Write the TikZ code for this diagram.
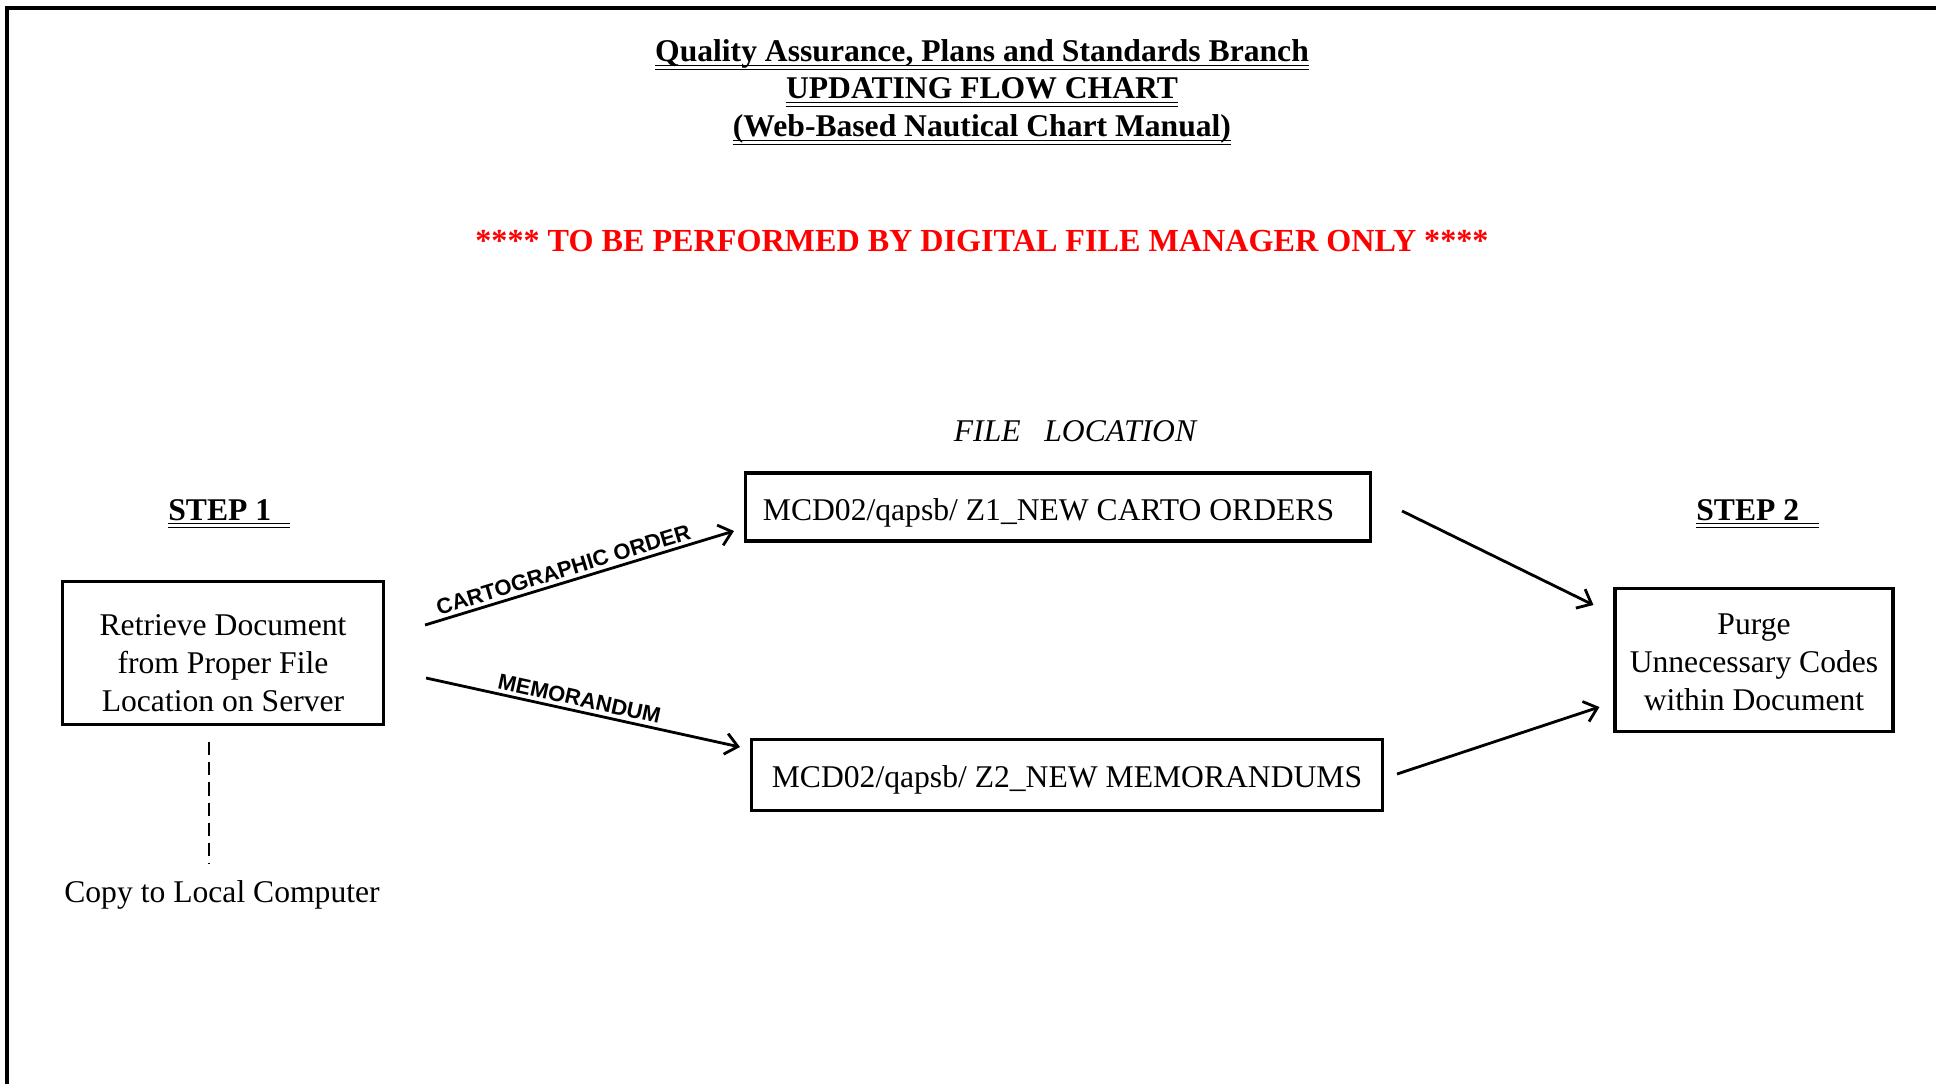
\documentclass[tikz,border=0pt]{standalone}
\usepackage{fontspec}
\setmainfont{Liberation Serif}
\newfontfamily\labfont{Liberation Sans}
\usepackage{tikz}
\usetikzlibrary{positioning,calc,arrows,arrows.meta}

% two rules under a heading node
\newcommand{\dblrule}[1]{%
  \draw[line width=0.8pt] ([yshift=-2pt]#1.base west) -- ([yshift=-2pt]#1.base east);
  \draw[line width=0.8pt] ([yshift=-4.2pt]#1.base west) -- ([yshift=-4.2pt]#1.base east);}

\tikzset{
  txt/.style={font=\fontsize{18}{21.6}\selectfont},
  head/.style={font=\fontsize{18}{21.6}\selectfont\bfseries, inner sep=0pt},
  box/.style={draw, line width=1.8pt, align=center, txt},
  lab/.style={font=\labfont\bfseries\fontsize{12.5}{14}\selectfont, sloped, above, inner sep=2pt},
  flow/.style={-{Straight Barb[length=7pt,width=12pt]}, line width=1.6pt}
}

\begin{document}
\begin{tikzpicture}[x=0.02cm,y=-0.02cm]
    \useasboundingbox (0,0) rectangle (1936,1084);
    \draw[line width=2.6pt] (1936,8) -- (7,8) -- (7,1084);

    \node[head,anchor=base] (title1) at (982,62) {Quality Assurance, Plans and Standards Branch};
    \node[head,anchor=base] (title2) at (982,99) {UPDATING FLOW CHART};
    \node[head,anchor=base] (title3) at (982,137) {(Web-Based Nautical Chart Manual)};
    \node[head,anchor=base,red,font=\fontsize{18.3}{22}\selectfont\bfseries] (warn) at (982,252) {**** TO BE PERFORMED BY DIGITAL FILE MANAGER ONLY ****};

    \node[txt,anchor=base,font=\fontsize{18}{21.6}\selectfont\itshape] (fileloc) at (1075,441) {FILE\ \ \ LOCATION};
    \node[head,anchor=base west] (step1) at (168,520) {STEP 1\kern0.6em};
    \node[head,anchor=base west] (step2) at (1696,520) {STEP 2\kern0.6em};
    \dblrule{title1} \dblrule{title2} \dblrule{title3}
    \dblrule{step1} \dblrule{step2}

    \node[box,minimum width=6.42cm,minimum height=2.86cm,text height=66.3pt] (retrieve) at (223,653) {Retrieve Document\\from Proper File\\Location on Server};
    \node[txt] (copy) at (222,895) {Copy to Local Computer};
    \node[box,minimum width=12.5cm,minimum height=1.36cm,text height=19.3pt,text depth=4pt] (carto) at (1058,507) {MCD02/qapsb/ Z1\_NEW CARTO ORDERS\kern0.6em};
    \node[box,minimum width=12.62cm,minimum height=1.42cm,text height=18pt,text depth=4pt] (memo) at (1067,775) {MCD02/qapsb/ Z2\_NEW MEMORANDUMS};
    \node[box,minimum width=5.56cm,minimum height=2.86cm,text height=57.9pt] (purge) at (1754,660) {Purge\\Unnecessary Codes\\within Document};

    \draw[flow] ($(retrieve.east)+(40,-28)$) -- node[lab,pos=0.46] {CARTOGRAPHIC ORDER} ($(carto.west)+(-10,24)$);
    \draw[flow] ($(retrieve.east)+(41,25)$) -- node[lab,pos=0.48] {MEMORANDUM} ($(memo.west)+(-10,-28)$);
    \draw[flow] ($(carto.east)+(30,4)$) -- ($(purge.west)+(-20,-55)$);
    \draw[flow] ($(memo.east)+(13,-1)$) -- ($(purge.west)+(-14,47)$);
    \draw[line width=1.1pt,dash pattern=on 7.5pt off 4pt] ($(retrieve.south)+(-14,16)$) -- ($(copy.north)+(-13,-10)$);
\end{tikzpicture}
\end{document}
